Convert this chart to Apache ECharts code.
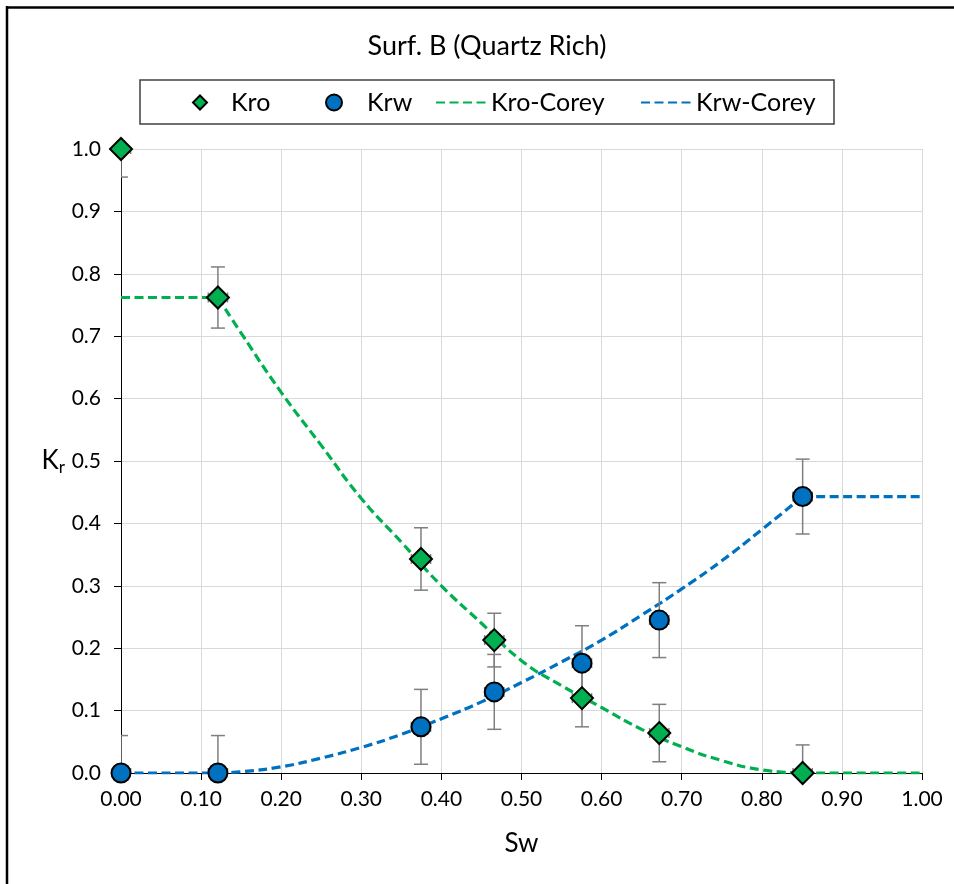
<!DOCTYPE html>
<html>
<head>
<meta charset="utf-8">
<script src="https://cdn.jsdelivr.net/npm/echarts@6/dist/echarts.min.js"></script>
<style>
  html, body { margin: 0; padding: 0; background: #fff; }
  #chart { width: 954px; height: 884px; }
</style>
</head>
<body>
<div id="chart"></div>
<script>
// Measured relative permeability points (water saturation Sw)
const sw  = [0.000, 0.121, 0.3745, 0.466, 0.5755, 0.672, 0.851];
const kro = [1.000, 0.762, 0.343, 0.213, 0.120, 0.064, 0.000];
const krw = [0.000, 0.000, 0.074, 0.130, 0.176, 0.245, 0.443];
// Uncertainties
const swErr  = [0.012, 0.012, 0.012, 0.012, 0.012, 0.012, 0.012];
const kroErr = [0.045, 0.049, 0.050, 0.043, 0.046, 0.046, 0.045];
const krwErr = [0.060, 0.060, 0.060, 0.060, 0.060, 0.060, 0.060];

// Corey fits between the end points
const coreySw  = [0.121, 0.15, 0.20, 0.25, 0.30, 0.35, 0.40, 0.45, 0.50, 0.55, 0.60, 0.65, 0.70, 0.75, 0.80, 0.851];
const kroCorey = [0.762, 0.705, 0.610, 0.525, 0.440, 0.370, 0.300, 0.240, 0.180, 0.140, 0.105, 0.070, 0.042, 0.020, 0.005, 0.000];
const krwCorey = [0.000, 0.002, 0.010, 0.024, 0.041, 0.062, 0.087, 0.114, 0.145, 0.178, 0.213, 0.253, 0.295, 0.340, 0.390, 0.443];
// Constant end segments of the fits
const kroCoreyLeft  = [[0.000, 0.762], [0.121, 0.762]];
const kroCoreyRight = [[0.851, 0.000], [1.000, 0.000]];
const krwCoreyLeft  = [[0.000, 0.000], [0.121, 0.000]];
const krwCoreyRight = [[0.851, 0.443], [1.000, 0.443]];

const xTicks = { min: 0, max: 1, interval: 0.1 };
const yTicks = { min: 0, max: 1, interval: 0.1 };

const FONT = 'Lato, "Open Sans", sans-serif';
const GREEN = '#00B050';
const BLUE = '#0070C0';

const pairs = (xs, ys) => xs.map((x, i) => [x, ys[i]]);
const errRows = (ys, yErr) => sw.map((x, i) => [x, ys[i], swErr[i], yErr[i]]);

function renderErr(params, api) {
  const x = api.value(0), y = api.value(1), ex = api.value(2), ey = api.value(3);
  const c = api.coord([x, y]);
  const top = api.coord([x, y + ey]);
  const bot = api.coord([x, y - ey]);
  const lft = api.coord([x - ex, y]);
  const rgt = api.coord([x + ex, y]);
  const cw = 7, ch = 5;
  const style = { stroke: '#7f7f7f', lineWidth: 1.5, fill: null };
  const seg = (x1, y1, x2, y2) => ({ type: 'line', shape: { x1, y1, x2, y2 }, style });
  return {
    type: 'group',
    children: [
      seg(c[0], top[1], c[0], bot[1]),
      seg(c[0] - cw, top[1], c[0] + cw, top[1]),
      seg(c[0] - cw, bot[1], c[0] + cw, bot[1]),
      seg(lft[0], c[1], rgt[0], c[1]),
      seg(lft[0], c[1] - ch, lft[0], c[1] + ch),
      seg(rgt[0], c[1] - ch, rgt[0], c[1] + ch)
    ]
  };
}

const dashed = (color) => ({ color, width: 3.2, type: [9, 4.5] });
const legendText = { fontFamily: FONT, fontSize: 25, color: '#000' };

const chart = echarts.init(document.getElementById('chart'));
chart.setOption({
  animation: false,
  backgroundColor: '#fff',
  textStyle: { fontFamily: FONT },
  title: {
    text: 'Surf. B (Quartz Rich)',
    left: 487, top: 33, textAlign: 'center', padding: 0,
    textStyle: { fontFamily: FONT, fontSize: 27, fontWeight: 'normal', color: '#000' }
  },
  graphic: [
    { type: 'line', shape: { x1: 6, y1: 7.5, x2: 954, y2: 7.5 }, style: { stroke: '#000', lineWidth: 2.5 } },
    { type: 'line', shape: { x1: 7, y1: 6, x2: 7, y2: 884 }, style: { stroke: '#000', lineWidth: 2.5 } },
    { type: 'rect', shape: { x: 140, y: 80, width: 694, height: 44 }, style: { stroke: '#404040', lineWidth: 1.5, fill: null }, z: 10 }
  ],
  legend: [
    { data: ['Kro'], left: 192, top: 90, padding: 0, itemWidth: 14, itemHeight: 14,
      textStyle: Object.assign({ padding: [0, 0, 0, 19] }, legendText) },
    { data: ['Krw'], left: 325, top: 90, padding: 0, itemWidth: 16, itemHeight: 16,
      textStyle: Object.assign({ padding: [0, 0, 0, 20] }, legendText) },
    { data: ['Kro-Corey'], left: 435, top: 90, padding: 0, itemWidth: 50, itemHeight: 14,
      itemStyle: { opacity: 0 }, textStyle: legendText },
    { data: ['Krw-Corey'], left: 640, top: 90, padding: 0, itemWidth: 50, itemHeight: 14,
      itemStyle: { opacity: 0 }, textStyle: legendText }
  ],
  grid: { left: 121, right: 32, top: 149, bottom: 111, containLabel: false },
  xAxis: {
    type: 'value', min: xTicks.min, max: xTicks.max, interval: xTicks.interval,
    name: 'Sw', nameLocation: 'middle', nameGap: 58,
    nameTextStyle: { fontFamily: FONT, fontSize: 26, color: '#000' },
    axisLine: { show: true, onZero: false, lineStyle: { color: '#000', width: 1 } },
    axisTick: { show: true, length: 7, lineStyle: { color: '#000' } },
    axisLabel: { margin: 16, fontFamily: FONT, fontSize: 21, color: '#000',
      formatter: v => v.toFixed(2) },
    splitLine: { show: true, lineStyle: { color: '#d9d9d9', width: 1 } }
  },
  yAxis: {
    type: 'value', min: yTicks.min, max: yTicks.max, interval: yTicks.interval,
    name: 'K{s|r}', nameLocation: 'middle', nameGap: 56, nameRotate: 0,
    nameTextStyle: { fontFamily: FONT, fontSize: 26, color: '#000',
      rich: { s: { fontFamily: FONT, fontSize: 17, color: '#000', padding: [14, 0, 0, 0] } } },
    axisLine: { show: true, onZero: false, lineStyle: { color: '#000', width: 1 } },
    axisTick: { show: true, length: 7, lineStyle: { color: '#000' } },
    axisLabel: { margin: 20, fontFamily: FONT, fontSize: 21, color: '#000',
      formatter: v => v.toFixed(1) },
    splitLine: { show: true, lineStyle: { color: '#d9d9d9', width: 1 } }
  },
  series: [
    { name: 'Kro-Corey', type: 'line', data: pairs(coreySw, kroCorey), smooth: true,
      showSymbol: false, symbol: 'none', lineStyle: dashed(GREEN), itemStyle: { color: GREEN }, z: 2 },
    { name: 'Kro-Corey', type: 'line', data: kroCoreyLeft, showSymbol: false, symbol: 'none',
      lineStyle: dashed(GREEN), itemStyle: { color: GREEN }, z: 2 },
    { name: 'Kro-Corey', type: 'line', data: kroCoreyRight, showSymbol: false, symbol: 'none',
      lineStyle: dashed(GREEN), itemStyle: { color: GREEN }, z: 2 },
    { name: 'Krw-Corey', type: 'line', data: pairs(coreySw, krwCorey), smooth: true,
      showSymbol: false, symbol: 'none', lineStyle: dashed(BLUE), itemStyle: { color: BLUE }, z: 2 },
    { name: 'Krw-Corey', type: 'line', data: krwCoreyLeft, showSymbol: false, symbol: 'none',
      lineStyle: dashed(BLUE), itemStyle: { color: BLUE }, z: 2 },
    { name: 'Krw-Corey', type: 'line', data: krwCoreyRight, showSymbol: false, symbol: 'none',
      lineStyle: dashed(BLUE), itemStyle: { color: BLUE }, z: 2 },
    { type: 'custom', data: errRows(kro, kroErr), renderItem: renderErr, clip: true, z: 3, silent: true },
    { type: 'custom', data: errRows(krw, krwErr), renderItem: renderErr, clip: true, z: 3, silent: true },
    { name: 'Krw', type: 'scatter', data: pairs(sw, krw), symbol: 'circle', symbolSize: 19,
      itemStyle: { color: BLUE, borderColor: '#000', borderWidth: 2, opacity: 1 }, z: 4 },
    { name: 'Kro', type: 'scatter', data: pairs(sw, kro), symbol: 'diamond', symbolSize: 22,
      itemStyle: { color: GREEN, borderColor: '#000', borderWidth: 2, opacity: 1 }, z: 5 }
  ]
});
</script>
</body>
</html>
